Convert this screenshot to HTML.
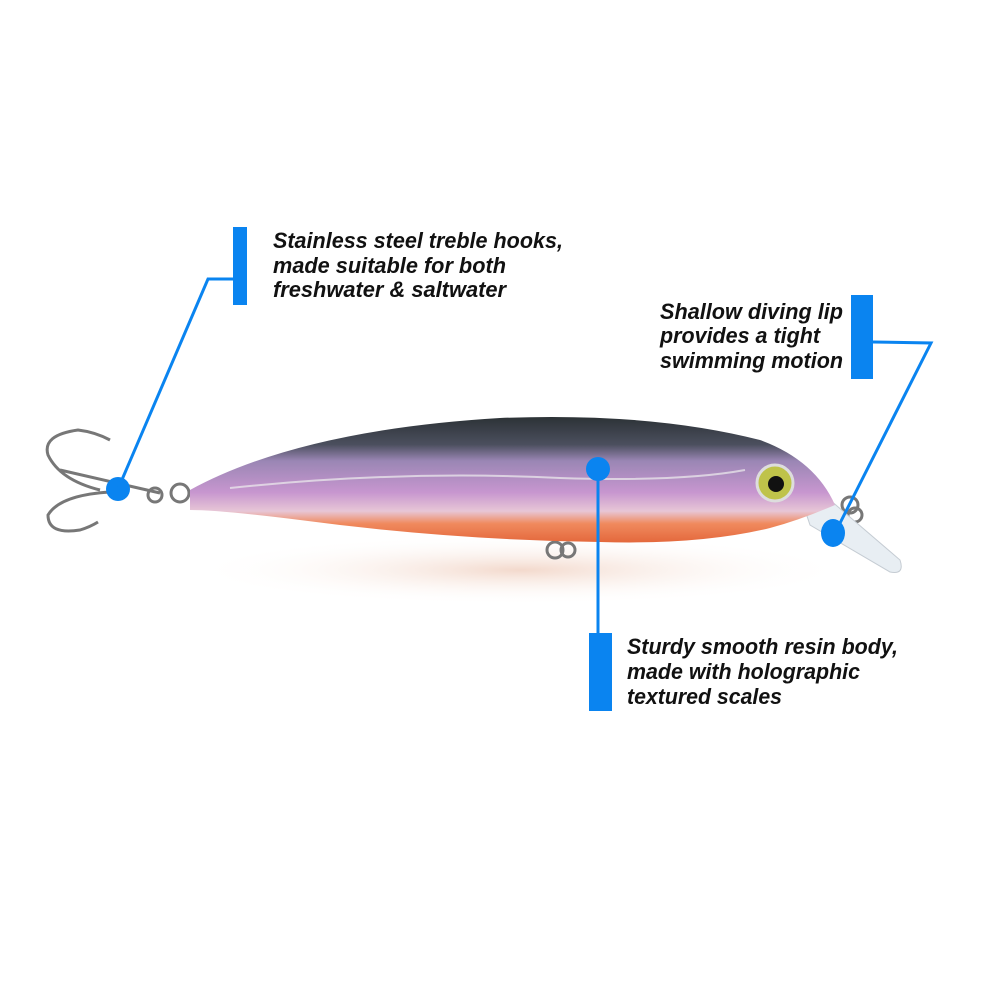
<!DOCTYPE html>
<html><head><style>
html,body{margin:0;padding:0;background:#fff;}
svg{display:block}
text{font-family:"Liberation Sans",sans-serif;font-weight:bold;font-style:italic;font-size:22px;fill:#111;}
</style></head><body>
<svg width="1000" height="1000" viewBox="0 0 1000 1000" xmlns="http://www.w3.org/2000/svg">
<defs>
<linearGradient id="bd" x1="0" y1="0" x2="0" y2="1">
<stop offset="0" stop-color="#2c3236"/>
<stop offset="0.22" stop-color="#4b4f5e"/>
<stop offset="0.35" stop-color="#9a86b4"/>
<stop offset="0.6" stop-color="#c796cf"/>
<stop offset="0.75" stop-color="#e7c6d6"/>
<stop offset="0.85" stop-color="#f08a5e"/>
<stop offset="1" stop-color="#e4683c"/>
</linearGradient>
<radialGradient id="sh" cx="0.5" cy="0.5" r="0.5">
<stop offset="0" stop-color="#f3d9cc"/><stop offset="1" stop-color="#fff" stop-opacity="0"/>
</radialGradient>
</defs>
<ellipse cx="520" cy="570" rx="330" ry="35" fill="url(#sh)"/>
<g fill="none" stroke="#777" stroke-width="3">
<path d="M160,493 L60,470 M100,490 Q60,480 48,455 Q42,435 78,430 Q95,432 110,440"/>
<path d="M110,492 Q60,495 48,515 Q48,535 80,530 Q90,527 98,522"/>
<circle cx="155" cy="495" r="7"/><circle cx="180" cy="493" r="9"/>
<circle cx="555" cy="550" r="8"/><circle cx="568" cy="550" r="7"/>
<circle cx="850" cy="505" r="8"/><circle cx="855" cy="515" r="7"/>
</g>
<path d="M805,510 L830,500 L900,560 Q905,575 890,572 L810,525 Z" fill="#e8eef3" stroke="#c5ccd3"/>
<path d="M190,490 Q300,430 500,418 Q650,412 760,440 Q815,460 835,505 Q800,520 770,528 Q700,545 600,542 Q450,540 300,520 Q220,510 190,510 Z" fill="url(#bd)"/>
<path d="M230,488 Q400,470 560,478 Q680,482 745,470" stroke="#eee" stroke-width="2" fill="none" opacity="0.7"/>
<circle cx="775" cy="483" r="18" fill="#bfc34a" stroke="#ddd" stroke-width="3"/>
<circle cx="776" cy="484" r="8" fill="#111"/>
<g fill="#0a84f0" stroke="none">
<rect x="233" y="227" width="14" height="78"/>
<rect x="851" y="295" width="22" height="84"/>
<rect x="589" y="633" width="23" height="78"/>
<circle cx="118" cy="489" r="12"/>
<circle cx="598" cy="469" r="12"/>
<ellipse cx="833" cy="533" rx="12" ry="14"/>
</g>
<g fill="none" stroke="#0a84f0" stroke-width="3">
<polyline points="246,279 208,279 118,489"/>
<polyline points="873,342 931,343 835,533"/>
<line x1="598" y1="469" x2="598" y2="633"/>
</g>
<text x="273" y="248" textLength="290" lengthAdjust="spacingAndGlyphs">Stainless steel treble hooks,</text>
<text x="273" y="273" textLength="233" lengthAdjust="spacingAndGlyphs">made suitable for both</text>
<text x="273" y="297" textLength="233" lengthAdjust="spacingAndGlyphs">freshwater &amp; saltwater</text>
<text x="660" y="319" textLength="183" lengthAdjust="spacingAndGlyphs">Shallow diving lip</text>
<text x="660" y="343" textLength="160" lengthAdjust="spacingAndGlyphs">provides a tight</text>
<text x="660" y="368" textLength="183" lengthAdjust="spacingAndGlyphs">swimming motion</text>
<text x="627" y="654" textLength="271" lengthAdjust="spacingAndGlyphs">Sturdy smooth resin body,</text>
<text x="627" y="679" textLength="233" lengthAdjust="spacingAndGlyphs">made with holographic</text>
<text x="627" y="704" textLength="155" lengthAdjust="spacingAndGlyphs">textured scales</text>
</svg>
</body></html>
